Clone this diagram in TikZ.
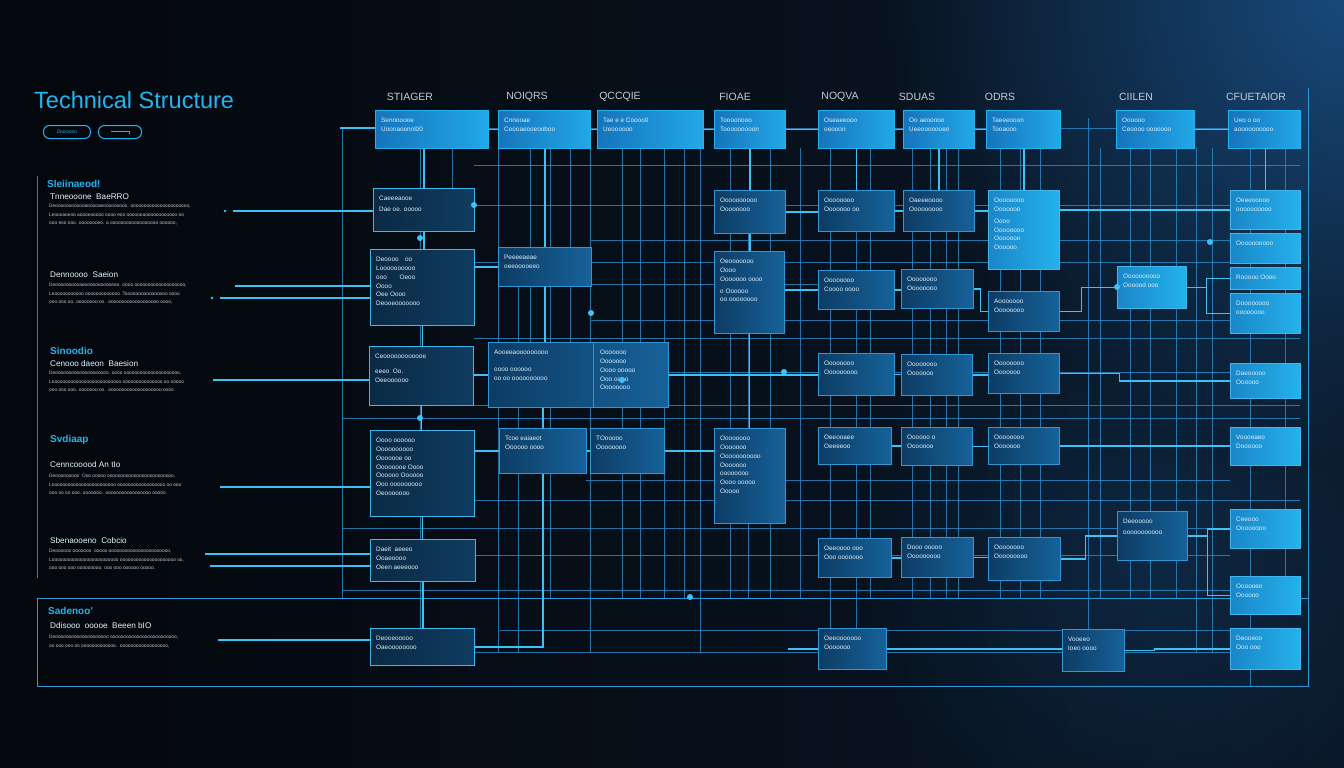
\documentclass[tikz,border=0pt]{standalone}
\usepackage{fontspec}
\setmainfont{Liberation Sans}
\usetikzlibrary{fadings}
\definecolor{bgL}{HTML}{04070C}
\definecolor{bgR}{HTML}{0A1828}
\definecolor{glowc}{HTML}{1C5A96}
\definecolor{gridc}{HTML}{2A86C2}
\definecolor{connc}{HTML}{3EC2F6}
\definecolor{cyanT}{HTML}{22B4EE}
\definecolor{top1}{HTML}{1674BC}
\definecolor{top2}{HTML}{22A8E8}
\definecolor{mid1}{HTML}{0D3C64}
\definecolor{mid2}{HTML}{16629A}
\definecolor{left1}{HTML}{0A2A44}
\definecolor{left2}{HTML}{0F3C60}
\definecolor{edgeL}{HTML}{3FB6EE}
\definecolor{edgeM}{HTML}{2E98D6}
\definecolor{r1}{HTML}{1A86C8}
\definecolor{r2}{HTML}{24B2EC}
\definecolor{txtc}{HTML}{DDF0FB}
\definecolor{greyt}{HTML}{BCC6D0}
\tikzfading[name=myglow, inner color=transparent!25, outer color=transparent!100]
\tikzset{
  gridline/.style={draw=gridc, line width=0.8pt, opacity=0.85},
  conn/.style={draw=connc, line width=1.2pt},
  topbox/.style={draw=cyanT, line width=0.8pt, left color=top1, right color=top2, rectangle, inner sep=0pt},
  leftbox/.style={draw=edgeL, line width=1.1pt, left color=left1, right color=left2, rectangle, inner sep=0pt},
  midbox/.style={draw=edgeM, line width=0.8pt, left color=mid1, right color=mid2, rectangle, inner sep=0pt},
  rbox/.style={draw=edgeL, line width=0.8pt, left color=r1, right color=r2, rectangle, inner sep=0pt},
  btxt/.style={text=txtc, font=\fontsize{6.4}{8.8}\selectfont, align=left, inner sep=0pt},
  hdr/.style={text=greyt!90!white, font=\fontsize{10.5}{12}\selectfont, inner sep=0pt},
  sectitle/.style={text=cyanT, font=\fontsize{10}{12}\selectfont\bfseries, anchor=west, inner sep=0pt},
  secsub/.style={text=white!88!cyan, font=\fontsize{8.2}{10}\selectfont, anchor=west, inner sep=0pt},
  secbody/.style={text=greyt, font=\fontsize{4.8}{8.6}\selectfont, anchor=north west, align=left, inner sep=0pt},
  btn/.style={draw=cyanT, line width=1pt, rounded corners=6pt, inner sep=0pt, anchor=north west},
  dotc/.style={fill=connc},
}
\newcommand{\mkbox}[7]{%
  \node[#6, anchor=north west, minimum width={(#4-#2)*1pt}, minimum height={(#5-#3)*1pt}] (#1) at (#2,#3) {};
  \node[btxt, anchor=north west] (#1t) at ([shift={(6pt,-8pt)}]#1.north west) {#7};
}
\begin{document}
\begin{tikzpicture}[x=1pt,y=-1pt]
\useasboundingbox (0,0) rectangle (1344,768);
% background
\fill[left color=bgL, right color=bgR] (0,0) rectangle (1344,768);
\fill[glowc, path fading=myglow] (1344,0) circle [radius=460pt];
\fill[glowc, path fading=myglow, opacity=0.35] (1150,560) circle [radius=300pt];

% title and buttons
\node[anchor=west, text=cyanT, font=\fontsize{23.5}{26}\selectfont, inner sep=0pt] (title) at (34,100) {Technical Structure};
\node[btn, minimum width=47pt, minimum height=13pt] (b1) at (43,125) {\fontsize{5}{6}\selectfont\itshape\color{cyanT}Dneoooo};
\node[btn, minimum width=43pt, minimum height=13pt] (b2) at (98,125) {};
\draw[cyanT, line width=0.9pt] ([xshift=-9pt,yshift=1pt]b2.center) -- ([xshift=9pt,yshift=1pt]b2.center) -- ([xshift=9pt,yshift=-2pt]b2.center);

% left frame lines
\coordinate (lf1) at (37,176);
\coordinate (lf2) at (37,578);
\draw[gridline, draw=edgeM] (lf1) -- (lf2);
\coordinate (fr1) at (37,598);
\coordinate (fr2) at (1308,686);
\draw[draw=edgeM, line width=1pt] (fr1) rectangle (fr2);
\coordinate (rb1) at (1308,88);
\draw[draw=edgeM, line width=0.8pt] (rb1) -- (rb1 |- fr2);

% grid verticals
\foreach \x/\a/\b in {342/128/598, 420/148/628, 452/148/188, 498/148/652, 518/286/652, 530/148/342, 550/148/598,
  570/148/342, 590/148/652, 622/148/598, 640/148/598, 664/148/598, 684/148/598, 700/148/652, 730/148/598,
  748/233/598, 770/148/598, 800/148/598, 830/148/628, 856/148/628, 870/148/598, 912/148/598, 930/148/598,
  946/148/598, 958/148/598, 1000/148/598, 1020/148/598, 1040/148/598, 1088/118/652, 1100/148/598,
  1130/148/598, 1150/148/598, 1176/148/598, 1196/148/652, 1212/148/652, 1250/148/686, 1285/148/614}
  \draw[gridline] (\x,\a) -- (\x,\b);
% grid horizontals
\foreach \y/\a/\b in {128/340/1228, 165/474/1300, 205/474/1230, 240/591/1230, 262/474/1300, 284/591/818,
  320/591/1230, 338/474/1300, 372/668/1230, 405/474/1300, 418/342/1300, 480/586/1230, 500/474/1300,
  528/342/1230, 555/474/1230, 590/342/1300, 630/500/1230, 652/474/1230}
  \draw[gridline] (\a,\y) -- (\b,\y);

% ---------------- boxes
% top row
\mkbox{A1}{375}{110}{488}{148}{topbox}{Sennooooe\\Uoonaoennl00}
\mkbox{A2}{498}{110}{590}{148}{topbox}{Cnnooae\\Ceooaeooeooboo}
\mkbox{A3}{597}{110}{703}{148}{topbox}{Tae e e Coooo0\\Ueoooooo}
\mkbox{A4}{714}{110}{785}{148}{topbox}{Toooonooo\\Tooooooooon}
\mkbox{A5}{818}{110}{894}{148}{topbox}{Oseaeeooo\\oeooon}
\mkbox{A6}{903}{110}{974}{148}{topbox}{Oo aeoonoo\\Ueeooooooeo}
\mkbox{A7}{986}{110}{1060}{148}{topbox}{Taeeeooon\\Tooaooo}
\mkbox{A8}{1116}{110}{1194}{148}{topbox}{Oooooo\\Ceoooo ooooooo}
\mkbox{A9}{1228}{110}{1300}{148}{topbox}{Ueo o oo\\aoooooooooo}

% headers
\node[hdr] (h1) at (410,97) {STIAGER};
\node[hdr] (h2) at (527,97) {NOIQRS};
\node[hdr] (h3) at (620,97) {QCCQIE};
\node[hdr] (h4) at (735,97) {FIOAE};
\node[hdr] (h5) at (840,97) {NOQVA};
\node[hdr] (h6) at (917,97) {SDUAS};
\node[hdr] (h7) at (1000,97) {ODRS};
\node[hdr] (h8) at (1136,97) {CIILEN};
\node[hdr] (h9) at (1256,97) {CFUETAIOR};

% connectors (drawn before other boxes)
\coordinate (tin) at (340,128);
\draw[conn] (tin) -- (tin -| A1.west);
\draw[conn] (A1.east) -- (A2.west);
\draw[conn] (A2.east) -- (A3.west);
\draw[conn] (A3.east) -- (A4.west);
\draw[conn] (A4.east) -- (A5.west);
\draw[conn] (A5.east) -- (A6.west);
\draw[conn] (A6.east) -- (A7.west);
\draw[conn] (A8.east) -- (A9.west);

% left column boxes
\mkbox{L1}{373}{188}{474}{231}{leftbox}{Caeeeaooe\\[2pt]Dae oe. ooooo}
\mkbox{L2}{370}{249}{474}{325}{leftbox}{Deoooo\quad oo\\Loooooooooo\\ooo\qquad Oeoo\\Oooo\\Oee Oooo\\Deooeooooooo}
\mkbox{L3}{369}{346}{473}{405}{leftbox}{Ceoooooooooooe\\[6pt]eeeo\ \ Oo.\\Oeeoooooo}
\mkbox{L4}{370}{430}{474}{516}{leftbox}{Oooo oooooo\\Oooooooooo\\Ooooooe oo\\Oooooooe Oooo\\Oooooo Oooooo\\Ooo ooooooooo\\Oeooooooo}
\mkbox{L5}{370}{539}{475}{581}{leftbox}{Daeit\ \ aeeeo\\Ooaeoooo\\Oeen aeeeooo}
\mkbox{L6}{370}{628}{474}{665}{leftbox}{Deooeooooo\\Oaeoooooooo}

% middle boxes
\mkbox{M1}{498}{247}{591}{286}{midbox}{Peeeeaeae\\oeeooooeeo}
\mkbox{M2}{488}{342}{668}{407}{midbox}{Aooeeaooooooooo\\[8pt]oooo oooooo\\oo oo oooooooooo}
\coordinate (m2d) at (593,342);
\draw[draw=edgeM, line width=0.8pt] (m2d) -- (m2d |- M2.south);
\node[btxt, anchor=north west] (M2r) at (600,350) {Ooooooo\\Ooooooo\\Oooo ooooo\\Ooo oooo\\Oooooooo};
\mkbox{M3}{499}{428}{586}{473}{midbox}{Tcoe eaiaeot\\Oooooo oooo}
\mkbox{M4}{590}{428}{664}{473}{midbox}{TOooooo\\Oooooooo}

\mkbox{F1}{714}{190}{785}{233}{midbox}{Oooooooooo\\Oooooooo}
\mkbox{F2}{714}{251}{784}{333}{midbox}{Oeooooooo\\Oooo\\Ooooooo oooo\\[3pt]o Oooooo\\oo oooooooo}
\mkbox{F3}{714}{428}{785}{523}{midbox}{Oooooooo\\Ooooooo\\Ooooooooooo\\Ooooooo\\oooooooo\\Oooo ooooo\\Ooooo}

\mkbox{N1}{818}{190}{894}{231}{midbox}{Oooooooo\\Ooooooo oo}
\mkbox{N2}{818}{270}{894}{309}{midbox}{Oooooooo\\Coooo oooo}
\mkbox{N3}{818}{353}{894}{395}{midbox}{Oooooooo\\Ooooooooo}
\mkbox{N4}{818}{427}{891}{464}{midbox}{Oeeooaee\\Oeeeeoo}
\mkbox{N5}{818}{538}{891}{577}{midbox}{Oeeoooo ooo\\Ooo ooooooo}
\mkbox{N6}{818}{628}{886}{669}{midbox}{Oeeooooooo\\Ooooooo}

\mkbox{S1}{903}{190}{974}{231}{midbox}{Oaeeeoooo\\Ooooooooo}
\mkbox{S2}{901}{269}{973}{308}{midbox}{Oooooooo\\Oooooooo}
\mkbox{S3}{901}{354}{972}{395}{midbox}{Oooooooo\\Ooooooo}
\mkbox{S4}{901}{427}{972}{465}{midbox}{Oooooo o\\Ooooooo}
\mkbox{S5}{901}{537}{973}{577}{midbox}{Dooo ooooo\\Ooooooooo}

\mkbox{O1}{988}{190}{1059}{269}{rbox}{Oooooooo\\Ooooooo\\[3pt]Oooo\\Oooooooo\\Ooooooo\\Oooooo}
\mkbox{O2}{988}{291}{1059}{331}{midbox}{Aooooooo\\Oooooooo}
\mkbox{O3}{988}{353}{1059}{393}{midbox}{Oooooooo\\Ooooooo}
\mkbox{O4}{988}{427}{1059}{464}{midbox}{Oooooooo\\Ooooooo}
\mkbox{O5}{988}{537}{1060}{580}{midbox}{Oooooooo\\Ooooooooo}

\mkbox{C1}{1117}{266}{1186}{308}{rbox}{Oooooooooo\\Oooood ooo}
\mkbox{C2}{1117}{511}{1187}{560}{midbox}{Deeooooo\\[2pt]ooooooooooo}
\mkbox{C3}{1062}{629}{1124}{671}{midbox}{Vooeeo\\Ioeo oooo}

\mkbox{R1}{1230}{190}{1300}{229}{rbox}{Oeeeooooo\\oooooooooo}
\mkbox{R2}{1230}{233}{1300}{263}{rbox}{Oooooooooo}
\mkbox{R3}{1230}{267}{1300}{289}{rbox}{Rooooo Oooo}
\mkbox{R4}{1230}{293}{1300}{333}{rbox}{Doooooooo\\oooooooo}
\mkbox{R5}{1230}{363}{1300}{398}{rbox}{Daeooooo\\Oooooo}
\mkbox{R6}{1230}{427}{1300}{465}{rbox}{Voooeaeo\\Doooooo}
\mkbox{R7}{1230}{509}{1300}{548}{rbox}{Ceeooo\\Oooooooo}
\mkbox{R8}{1230}{576}{1300}{614}{rbox}{Oooooeo\\Oooooo}
\mkbox{R9}{1230}{628}{1300}{669}{rbox}{Deooeoo\\Ooo ooo}

% ---------------- box-to-box connectors
\draw[conn] (L1.north) -- (L1.north |- A1.south);
\draw[conn] (L1.south) -- (L1.south |- L2.north);
\draw[conn] (L2.south) -- (L2.south |- L3.north);
\draw[conn] (L3.south) -- (L3.south |- L4.north);
\draw[conn] (L4.south) -- (L4.south |- L5.north);
\draw[conn] (L5.south) -- (L5.south |- L6.north);
\draw[conn] (M1.west) -- (M1.west -| L2.east);
\draw[conn] (M2.west) -- (M2.west -| L3.east);
\draw[conn] (M3.west) -- (M3.west -| L4.east);
\draw[conn] (M1.north) -- (M1.north |- A2.south);
\draw[conn] (M1.south) -- (M1.south |- M2.north);
\draw[conn] (M3.north) -- (M3.north |- M2.south);
\draw[conn] (M3.east) -- (M4.west);
\draw[conn] (M4.east) -- (M4.east -| F3.west);
\draw[conn] (M2.east) -- (M2.east -| N3.west);
\draw[conn] (L6.east) -| (M3.south);
\draw[conn] (F1.north) -- (F1.north |- A4.south);
\draw[conn] (F1.south) -- (F1.south |- F2.north);
\draw[conn] (F2.south) -- (F2.south |- F3.north);
\draw[conn] (F1.east) -- (F1.east -| N1.west);
\draw[conn] (N2.west) -- (N2.west -| F2.east);
\draw[conn] (N1.east) -- (N1.east -| S1.west);
\draw[conn] (S1.east) -- (S1.east -| O1.west);
\draw[conn] (N2.east) -- (N2.east -| S2.west);
\draw[conn] (S2.east) -- ++(7,0) |- (O2.west);
\draw[conn] (N3.east) -- (N3.east -| S3.west);
\draw[conn] (S3.east) -- (S3.east -| O3.west);
\draw[conn] (N4.east) -- (N4.east -| S4.west);
\draw[conn] (S4.east) -- (S4.east -| O4.west);
\draw[conn] (N5.east) -- (N5.east -| S5.west);
\draw[conn] (S5.east) -- (S5.east -| O5.west);
\draw[conn] (N1.north) -- (N1.north |- A5.south);
\draw[conn] (S1.north) -- (S1.north |- A6.south);
\draw[conn] (O1.north) -- (O1.north |- A7.south);
\draw[conn] (R1.north) -- (R1.north |- A9.south);
\draw[conn] (R1.west) -- (R1.west -| O1.east);
\draw[conn] (O2.east) -- ++(22,0) |- (C1.west);
\draw[conn] (C1.east) -- ++(20,0) |- (R3.west);
\draw[conn] (C1.east) -- ++(20,0) |- (R4.west);
\draw[conn] (O3.east) -- ++(60,0) |- (R5.west);
\draw[conn] (O4.east) -- (O4.east -| R6.west);
\draw[conn] (O5.east) -- ++(25,0) |- (C2.west);
\draw[conn] (C2.east) -- ++(20,0) |- (R7.west);
\draw[conn] (C2.east) -- ++(20,0) |- (R8.west);
\draw[conn] (N6.east) -- (N6.east -| C3.west);
\draw[conn] (C3.east) -- ++(30,0) |- (R9.west);
\draw[conn] (N6.west) -- ++(-30,0);

% glowing dots
\foreach \p in {(690,597),(420,238),(420,418),(622,380),(474,205),(591,313),(784,372),(1117,287),(1210,242)}
  \fill[dotc] \p circle [radius=3pt];

% ---------------- left panel sections
\node[sectitle] (s1) at (47,184) {Sleiinaeod!};
\node[secsub] (s1s) at (50,197) {Tnneooone\ \ BaeRRO};
\node[secbody] (s1b) at (49,204) {Deoooooooooooaooooaeooooooooo. oooooooooooooooooooooo,\\Leoooaoeoo aoooeooooo oooo eoo ooooooaoooooooooooo oo\\ooo eoo ooo. oooooooeo. a oooooooooooooooooo oooooo,};
\coordinate (c1) at (233,211);
\draw[conn] (c1) -- (c1 -| L1.west);
\fill[dotc] (225,211) circle [radius=1.3pt];

\node[secsub] (s2) at (50,275) {Dennoooo\ \ Saeion};
\node[secbody] (s2b) at (49,283) {Deoooooooooaeoooooeooooeeo. oooo ooooooooooooooooooo,\\Leooooooooooo ooooooooooooo\ \ Toooooooooooooooo oooo\\ooo ooo oo. oooooooo oo.\ \ ooooooooooooooooooo oooo,};
\coordinate (c2) at (235,286);
\coordinate (c3) at (220,298);
\draw[conn] (c2) -- (c2 -| L2.west);
\draw[conn] (c3) -- (c3 -| L2.west);
\fill[dotc] (212,298) circle [radius=1.3pt];

\node[sectitle] (s3) at (50,351) {Sinoodio};
\node[secsub] (s3s) at (50,364) {Cenooo daeon\ \ Baesion};
\node[secbody] (s3b) at (49,371) {Deoooooooooooooooeoooo. oooo ooooooooooooooooooooo,\\Loooooooooooooooooooooooooo ooooooooooooooo oo ooooo\\ooo ooo ooo. ooooooo oo.\ \ oooooooooooooooooooo oooo};
\coordinate (c4) at (213,380);
\draw[conn] (c4) -- (c4 -| L3.west);

\node[sectitle] (s4) at (50,440) {Svdiaap};
\node[secsub] (s4s) at (50,465) {Cenncooood An tIo};
\node[secbody] (s4b) at (49,474) {Deooooooooo\ \ Ooo ooooo ooooooooooooooooooooooooo,\\Loooooooooooooooooooooooo oooooooooooooooooo oo ooo\\ooo oo oo ooo. ooooooo.\ \ ooooooooooooooooo ooooo};
\coordinate (c5) at (220,487);
\draw[conn] (c5) -- (c5 -| L4.west);

\node[secsub] (s5) at (50,541) {Sbenaooeno\ \ Cobcio};
\node[secbody] (s5b) at (49,549) {Deoooooo ooooooo\ \ ooooo ooooooooooooooooooooooo,\\Looooooooooooooooooooooooo ooooooooooooooooooooo oo,\\ooo ooo ooo ooooooooo. ooo ooo oooooo ooooo,};
\coordinate (c6) at (205,554);
\coordinate (c7) at (210,566);
\draw[conn] (c6) -- (c6 -| L5.west);
\draw[conn] (c7) -- (c7 -| L5.west);

\node[sectitle] (s6) at (48,611) {Sadenoo'};
\node[secsub] (s6s) at (50,626) {Ddisooo\ \ ooooe\ \ Beeen bIO};
\node[secbody] (s6b) at (49,635) {Deoooooooooooooooooooo ooooooooooooooooooooooooo,\\oo ooo ooo oo ooooooooooooo.\ \ oooooooooooooooooo,};
\coordinate (c8) at (218,640);
\draw[conn] (c8) -- (c8 -| L6.west);
\end{tikzpicture}
\end{document}
